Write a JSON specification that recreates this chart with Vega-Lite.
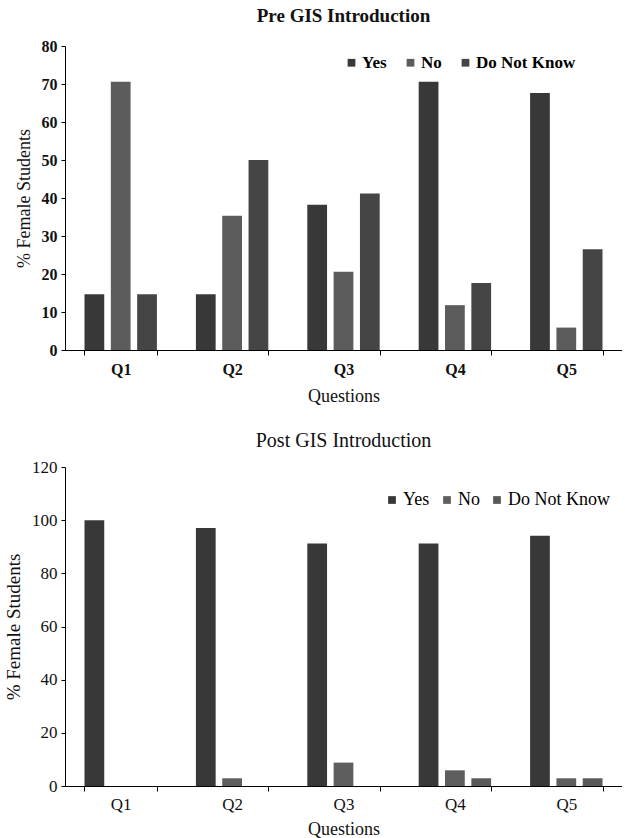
{
  "$schema": "https://vega.github.io/schema/vega-lite/v6.json",
  "padding": {"left": 4, "top": 7, "right": 0, "bottom": 0},
  "spacing": 26,
  "config": {
    "font": "Liberation Serif",
    "view": {"stroke": null},
    "axis": {"domainColor": "#000", "tickColor": "#000", "labelColor": "#111", "titleColor": "#111", "grid": false, "labelFont": "Liberation Serif", "titleFont": "Liberation Serif", "titleFontWeight": "normal"},
    "title": {"font": "Liberation Serif", "fontWeight": "normal", "color": "#111"},
    "legend": {"labelFont": "Liberation Serif", "symbolType": "square", "symbolStrokeWidth": 0}
  },
  "datasets": {
    "pre": [
      {"q": "Q1", "resp": "Yes", "v": 14.7}, {"q": "Q1", "resp": "No", "v": 70.6}, {"q": "Q1", "resp": "Do Not Know", "v": 14.7},
      {"q": "Q2", "resp": "Yes", "v": 14.7}, {"q": "Q2", "resp": "No", "v": 35.3}, {"q": "Q2", "resp": "Do Not Know", "v": 50.0},
      {"q": "Q3", "resp": "Yes", "v": 38.2}, {"q": "Q3", "resp": "No", "v": 20.6}, {"q": "Q3", "resp": "Do Not Know", "v": 41.2},
      {"q": "Q4", "resp": "Yes", "v": 70.6}, {"q": "Q4", "resp": "No", "v": 11.8}, {"q": "Q4", "resp": "Do Not Know", "v": 17.6},
      {"q": "Q5", "resp": "Yes", "v": 67.6}, {"q": "Q5", "resp": "No", "v": 5.9}, {"q": "Q5", "resp": "Do Not Know", "v": 26.5}
    ],
    "post": [
      {"q": "Q1", "resp": "Yes", "v": 100.0}, {"q": "Q1", "resp": "No", "v": 0}, {"q": "Q1", "resp": "Do Not Know", "v": 0},
      {"q": "Q2", "resp": "Yes", "v": 97.1}, {"q": "Q2", "resp": "No", "v": 2.9}, {"q": "Q2", "resp": "Do Not Know", "v": 0},
      {"q": "Q3", "resp": "Yes", "v": 91.2}, {"q": "Q3", "resp": "No", "v": 8.8}, {"q": "Q3", "resp": "Do Not Know", "v": 0},
      {"q": "Q4", "resp": "Yes", "v": 91.2}, {"q": "Q4", "resp": "No", "v": 5.9}, {"q": "Q4", "resp": "Do Not Know", "v": 2.9},
      {"q": "Q5", "resp": "Yes", "v": 94.1}, {"q": "Q5", "resp": "No", "v": 2.9}, {"q": "Q5", "resp": "Do Not Know", "v": 2.9}
    ]
  },
  "resolve": {"scale": {"color": "independent", "y": "independent"}, "legend": {"color": "independent"}},
  "vconcat": [
    {
      "title": {"text": "Pre GIS Introduction", "font": "Liberation Serif", "fontSize": 19, "fontWeight": 600, "offset": 12},
      "width": 557,
      "height": 304,
      "data": {"name": "pre"},
      "mark": {"type": "bar"},
      "encoding": {
        "x": {"field": "q", "type": "nominal", "title": "Questions",
              "scale": {"paddingInner": 0.35, "paddingOuter": 0.175},
              "axis": {"labelAngle": 0, "tickBand": "extent", "tickSize": 5, "labelFont": "Liberation Serif", "titleFont": "Liberation Serif", "labelFontSize": 16, "labelFontWeight": "bold", "titleFontSize": 18, "labelPadding": 6, "titlePadding": 10}},
        "xOffset": {"field": "resp", "type": "nominal", "sort": ["Yes", "No", "Do Not Know"], "scale": {"paddingInner": 0.25, "paddingOuter": 0}},
        "y": {"field": "v", "type": "quantitative", "title": "% Female Students",
              "scale": {"domain": [0, 80]},
              "axis": {"values": [0, 10, 20, 30, 40, 50, 60, 70, 80], "tickSize": 4, "labelFont": "Liberation Serif", "titleFont": "Liberation Serif", "labelFontSize": 16, "labelFontWeight": "bold", "titleFontSize": 18, "labelPadding": 4, "titlePadding": 8}},
        "color": {"field": "resp", "type": "nominal", "sort": ["Yes", "No", "Do Not Know"], "title": null,
                  "scale": {"domain": ["Yes", "No", "Do Not Know"], "range": ["#383838", "#5c5c5c", "#454545"]},
                  "legend": {"orient": "none", "direction": "horizontal", "legendX": 278, "legendY": 8, "labelFont": "Liberation Serif", "labelFontSize": 17, "labelFontWeight": "bold", "symbolSize": 60, "columnPadding": 15, "labelOffset": 2}}
      }
    },
    {
      "title": {"text": "Post GIS Introduction", "font": "Liberation Serif", "fontSize": 20, "offset": 7},
      "width": 557,
      "height": 319,
      "data": {"name": "post"},
      "mark": {"type": "bar"},
      "encoding": {
        "x": {"field": "q", "type": "nominal", "title": "Questions",
              "scale": {"paddingInner": 0.35, "paddingOuter": 0.175},
              "axis": {"labelAngle": 0, "tickBand": "extent", "tickSize": 5, "labelFont": "Liberation Serif", "titleFont": "Liberation Serif", "labelFontSize": 17, "titleFontSize": 18, "labelPadding": 5, "titlePadding": 8}},
        "xOffset": {"field": "resp", "type": "nominal", "sort": ["Yes", "No", "Do Not Know"], "scale": {"paddingInner": 0.25, "paddingOuter": 0}},
        "y": {"field": "v", "type": "quantitative", "title": "% Female Students",
              "scale": {"domain": [0, 120]},
              "axis": {"values": [0, 20, 40, 60, 80, 100, 120], "tickSize": 4, "labelFont": "Liberation Serif", "titleFont": "Liberation Serif", "labelFontSize": 17, "titleFontSize": 19, "labelPadding": 4, "titlePadding": 8}},
        "color": {"field": "resp", "type": "nominal", "sort": ["Yes", "No", "Do Not Know"], "title": null,
                  "scale": {"domain": ["Yes", "No", "Do Not Know"], "range": ["#383838", "#5e5e5e", "#595959"]},
                  "legend": {"orient": "none", "direction": "horizontal", "legendX": 318, "legendY": 24, "labelFont": "Liberation Serif", "labelFontSize": 18, "symbolSize": 60, "columnPadding": 8, "labelOffset": 2}}
      }
    }
  ]
}
